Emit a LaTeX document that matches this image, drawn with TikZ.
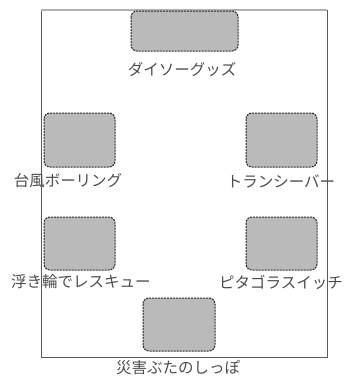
\documentclass[tikz,border=0pt]{standalone}
\usepackage{fontspec}
\newfontfamily\jp{Noto Sans CJK JP}
\begin{document}
\begin{tikzpicture}[x=1pt,y=-1pt,
  spot/.style={draw=black!85,fill=black!27,dashed,dash pattern=on 2pt off 1pt,line width=1pt,rounded corners=6pt},
  lbl/.style={font=\jp\fontsize{15.5}{17}\selectfont,text=black!70,inner sep=0pt,anchor=center}]
\useasboundingbox (0,0) rectangle (345,378);
\draw[black!65,line width=1pt] (41,10) rectangle (327,357);
\draw[black!30,line width=1.5pt] (41,10) -- (327,10);
\draw[spot] (131,11) rectangle (238,51);
\draw[spot] (44,113) rectangle (115,167);
\draw[spot] (246,113) rectangle (317,167);
\draw[spot] (44,217) rectangle (115,270);
\draw[spot] (246,217) rectangle (317,270);
\draw[spot] (143,298) rectangle (215,351);
\node[lbl] (t1) at (182,69) {ダイソーグッズ};
\node[lbl] (t2) at (68,181) {台風ボーリング};
\node[lbl] (t3) at (281,181) {トランシーバー};
\node[lbl] (t4) at (81,282) {浮き輪でレスキュー};
\node[lbl] (t5) at (281,282) {ピタゴラスイッチ};
\node[lbl] (t6) at (178,367) {災害ぶたのしっぽ};
\end{tikzpicture}
\end{document}
